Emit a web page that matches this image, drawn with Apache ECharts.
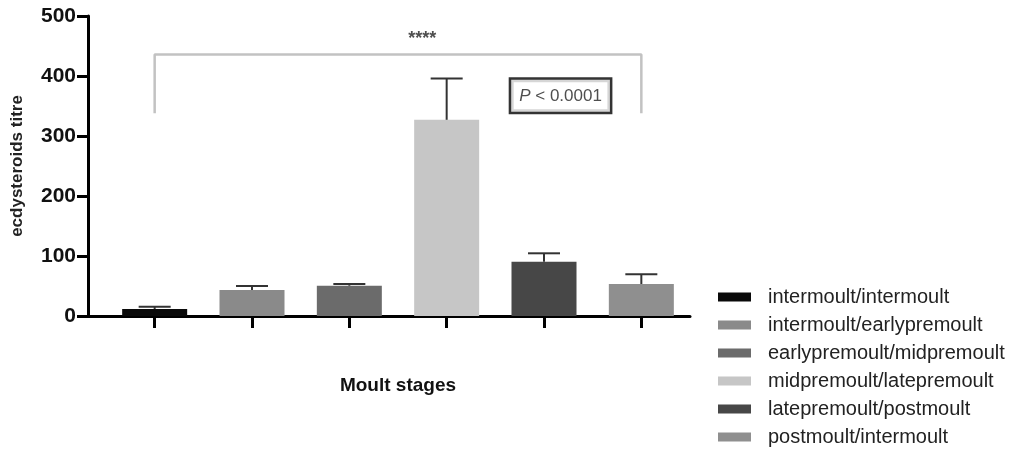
<!DOCTYPE html>
<html>
<head>
<meta charset="utf-8">
<script src="https://cdn.jsdelivr.net/npm/echarts@6/dist/echarts.min.js"></script>
<style>
  html, body { margin: 0; padding: 0; background: #fff; }
  #chart { width: 1025px; height: 451px; }
</style>
</head>
<body>
<div id="chart"></div>
<script>
// moult stage pairs, in legend order
const stages = [
  'intermoult/intermoult',
  'intermoult/earlypremoult',
  'earlypremoult/midpremoult',
  'midpremoult/latepremoult',
  'latepremoult/postmoult',
  'postmoult/intermoult'
];
const means = [11.7, 43.3, 50.5, 327, 90.5, 53.3];
const upper = [15.5, 50, 53.3, 396, 104.5, 69.5];   // mean + SD
const colors = ['#0a0a0a', '#8a8a8a', '#6b6b6b', '#c6c6c6', '#474747', '#8f8f8f'];
const yTicks = [0, 100, 200, 300, 400, 500];

// significance bracket between first and last group
const bracketFrom = 0, bracketTo = 5;
const bracketLow = 338, bracketHigh = 436;
const starsPos = [2.75, 462];
const pBoxPos = [4.17, 367];

const font = '"Liberation Sans", Arial, Helvetica, sans-serif';

const chart = echarts.init(document.getElementById('chart'));

const barSeries = stages.map((name, i) => ({
  name: name,
  type: 'bar',
  xAxisIndex: 1,
  yAxisIndex: 1,
  barWidth: 65,
  barGap: '-100%',
  itemStyle: { color: colors[i] },
  data: means.map((v, j) => (j === i ? v : '-')),
  z: 2
}));

const option = {
  animation: false,
  textStyle: { fontFamily: font },
  grid: [
    { left: 88, top: 16, width: 602, bottom: 135 },   // axes frame
    { left: 106, top: 16, width: 584, bottom: 135 }   // bar area
  ],
  legend: {
    orient: 'vertical',
    left: 718,
    top: 287,
    padding: 0,
    icon: 'rect',
    itemWidth: 33,
    itemHeight: 9,
    itemGap: 8,
    textStyle: { fontSize: 20, color: '#222', lineHeight: 20, fontFamily: font, padding: [0, 0, 0, 12] },
    data: stages,
    selectedMode: false
  },
  xAxis: [
    {
      type: 'value', gridIndex: 0, min: 0, max: 1,
      name: 'Moult stages', nameLocation: 'middle', nameGap: 60,
      nameTextStyle: { fontSize: 19, fontWeight: 'bold', color: '#111', padding: [0, 0, 0, 18] },
      axisLine: { show: true, lineStyle: { color: '#000', width: 3 } },
      axisTick: { show: false }, axisLabel: { show: false }, splitLine: { show: false }
    },
    {
      type: 'category', gridIndex: 1, data: stages,
      axisLine: { show: false },
      axisTick: { show: true, interval: 0, alignWithLabel: true, length: 12, lineStyle: { color: '#000', width: 3 } },
      axisLabel: { show: false, interval: 0 }
    },
    {
      type: 'value', gridIndex: 1, min: -0.5, max: 5.5, show: false
    }
  ],
  yAxis: [
    {
      type: 'value', gridIndex: 0, min: 0, max: 500, interval: 100,
      name: 'ecdysteroids titre', nameLocation: 'middle', nameGap: 62, nameRotate: 90,
      nameTextStyle: { fontSize: 17, fontWeight: 'bold', color: '#222' },
      axisLine: { show: true, lineStyle: { color: '#000', width: 3 } },
      axisTick: { show: true, length: 11, lineStyle: { color: '#000', width: 3 } },
      axisLabel: {
        fontSize: 21, fontWeight: 'bold', color: '#111', margin: 12,
        customValues: yTicks
      },
      splitLine: { show: false }
    },
    { type: 'value', gridIndex: 1, min: 0, max: 500, show: false }
  ],
  series: barSeries.concat([
    {
      type: 'custom',
      xAxisIndex: 1,
      yAxisIndex: 1,
      z: 3,
      data: means.map((m, i) => [i, m, upper[i]]),
      renderItem: function (params, api) {
        const base = api.coord([api.value(0), api.value(1)]);
        const top = api.coord([api.value(0), api.value(2)]);
        const half = 16;
        const style = { stroke: '#333', lineWidth: 2 };
        return {
          type: 'group',
          children: [
            { type: 'line', shape: { x1: base[0], y1: base[1], x2: top[0], y2: top[1] }, style: style },
            { type: 'line', shape: { x1: top[0] - half, y1: top[1], x2: top[0] + half, y2: top[1] }, style: style }
          ]
        };
      }
    },
    {
      type: 'line',
      xAxisIndex: 2,
      yAxisIndex: 1,
      symbol: 'none',
      lineStyle: { color: '#c2c2c2', width: 2.5 },
      data: [[bracketFrom, bracketLow], [bracketFrom, bracketHigh], [bracketTo, bracketHigh], [bracketTo, bracketLow]],
      z: 1
    },
    {
      type: 'scatter',
      xAxisIndex: 2,
      yAxisIndex: 1,
      symbolSize: 0,
      data: [
        {
          value: starsPos,
          label: { show: true, position: 'inside', formatter: '****', fontSize: 18, fontWeight: 'bold', color: '#222' }
        },
        {
          value: pBoxPos,
          label: {
            show: true, position: 'inside',
            formatter: '{i|P} < 0.0001',
            fontSize: 17, color: '#222',
            borderColor: '#000', borderWidth: 2.5,
            padding: [8, 8, 7, 8],
            backgroundColor: '#fff',
            rich: { i: { fontStyle: 'italic', fontSize: 17, color: '#222' } }
          }
        }
      ]
    }
  ])
};

chart.setOption(option);
</script>
</body>
</html>
